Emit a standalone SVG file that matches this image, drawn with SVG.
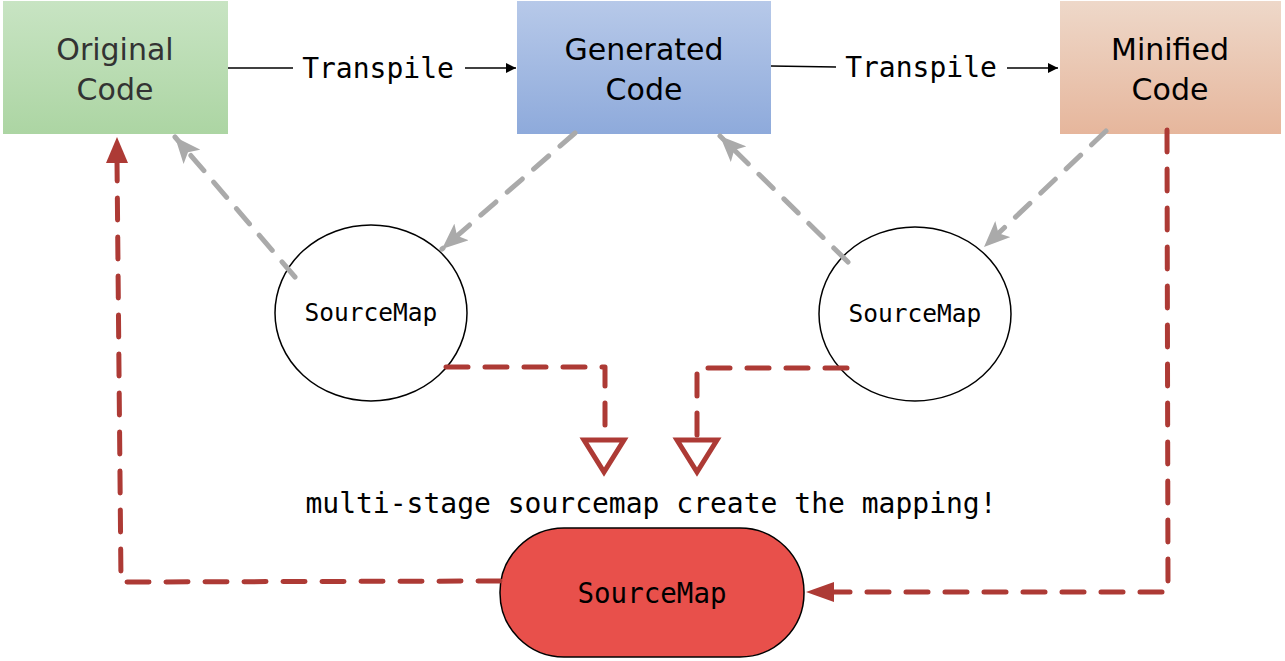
<svg xmlns="http://www.w3.org/2000/svg" width="1285" height="661" viewBox="0 0 1285 661">
<defs>
<linearGradient id="gGreen" x1="0" y1="0" x2="0" y2="1"><stop offset="0" stop-color="#c8e4c3"/><stop offset="1" stop-color="#acd5a3"/></linearGradient>
<linearGradient id="gBlue" x1="0" y1="0" x2="0" y2="1"><stop offset="0" stop-color="#b7c9e9"/><stop offset="1" stop-color="#8eaadb"/></linearGradient>
<linearGradient id="gOrange" x1="0" y1="0" x2="0" y2="1"><stop offset="0" stop-color="#eed8c9"/><stop offset="1" stop-color="#e6b69c"/></linearGradient>
<marker id="aBlack" viewBox="0 0 10 10" refX="10" refY="5" markerWidth="10" markerHeight="10" markerUnits="userSpaceOnUse" orient="auto"><path d="M0,0 L10,5 L0,10 z" fill="#000"/></marker>
<marker id="aGrey" viewBox="0 0 26 22" refX="26" refY="11" markerWidth="26" markerHeight="22" markerUnits="userSpaceOnUse" orient="auto"><path d="M0,0 L26,11 L0,22 L6,11 z" fill="#aaaaaa"/></marker>
</defs>
<style>
.box{stroke:none}
.lbl{font-family:"DejaVu Sans","Liberation Sans",sans-serif;font-size:30px;text-anchor:middle}
.mono{font-family:"DejaVu Sans Mono","Liberation Mono",monospace;text-anchor:middle;fill:#000}
.solid{stroke:#000;stroke-width:1.5;fill:none}
.grey{stroke:#aaaaaa;stroke-width:5;fill:none;stroke-dasharray:20 15;stroke-linecap:round}
.red{stroke:#ad3a35;stroke-width:5;fill:none;stroke-dasharray:22 17;stroke-linecap:round;stroke-linejoin:round}
.open{fill:#fff;stroke:#ad3a35;stroke-width:5;stroke-linejoin:miter}
</style>
<rect width="1285" height="661" fill="#fff"/>
<g id="original">
<rect class="box" x="3" y="1" width="225" height="133" fill="url(#gGreen)"/>
<text class="lbl" x="115" y="60" fill="#333" font-size="31">Original</text>
<text class="lbl" x="115" y="100" fill="#333" font-size="31">Code</text>
</g>
<g id="generated">
<rect class="box" x="517" y="1" width="254" height="133" fill="url(#gBlue)"/>
<text class="lbl" x="644" y="60" fill="#000">Generated</text>
<text class="lbl" x="644" y="100" fill="#000">Code</text>
</g>
<g id="minified">
<rect class="box" x="1060" y="1" width="221" height="133" fill="url(#gOrange)"/>
<text class="lbl" x="1170" y="60" fill="#000">Minified</text>
<text class="lbl" x="1170" y="100" fill="#000">Code</text>
</g>
<g id="sourcemap1">
<ellipse cx="371" cy="313" rx="96" ry="88" fill="#fff" stroke="#000" stroke-width="1.5"/>
<text class="mono" x="371" y="321" font-size="24.5">SourceMap</text>
</g>
<g id="sourcemap2">
<ellipse cx="915" cy="314" rx="96" ry="87" fill="#fff" stroke="#000" stroke-width="1.5"/>
<text class="mono" x="915" y="322" font-size="24.5">SourceMap</text>
</g>
<g id="sourcemap-final">
<rect x="500" y="528" width="304" height="129" rx="64" ry="64" fill="#e8504b" stroke="#000" stroke-width="1.5"/>
<text class="mono" x="652" y="603" font-size="27.5">SourceMap</text>
</g>
<g id="caption">
<text class="mono" x="651" y="513" font-size="28">multi-stage sourcemap create the mapping!</text>
</g>
<g id="connectors">
<line class="solid" x1="228" y1="68" x2="293" y2="68"/>
<text class="mono" x="378" y="78" font-size="28">Transpile</text>
<line class="solid" x1="465" y1="68" x2="516" y2="68" marker-end="url(#aBlack)"/>
<line class="solid" x1="771" y1="66" x2="836" y2="67"/>
<text class="mono" x="921" y="77" font-size="28">Transpile</text>
<line class="solid" x1="1007" y1="68" x2="1058" y2="68" marker-end="url(#aBlack)"/>
<line class="grey" x1="295" y1="277" x2="175" y2="137" marker-end="url(#aGrey)"/>
<line class="grey" x1="575" y1="133" x2="442" y2="249" marker-end="url(#aGrey)"/>
<line class="grey" x1="848" y1="262" x2="720" y2="136" marker-end="url(#aGrey)"/>
<line class="grey" x1="1106" y1="131" x2="984" y2="247" marker-end="url(#aGrey)"/>
<path class="red" d="M446,367 L605,367 L605,446"/>
<path class="open" d="M584,440 L624,440 L604,472 z"/>
<path class="red" d="M847,368 L697,368 L697,446"/>
<path class="open" d="M677,440 L717,440 L697,472 z"/>
<path class="red" d="M500,581 L121,582 L117,160"/>
<path d="M106,163 L117,137 L128,163 z" fill="#ad3a35"/>
<path class="red" d="M1167,130 L1168,592 L834,592"/>
<path d="M834,582 L806,592 L834,602 z" fill="#ad3a35"/>
</g>
</svg>
